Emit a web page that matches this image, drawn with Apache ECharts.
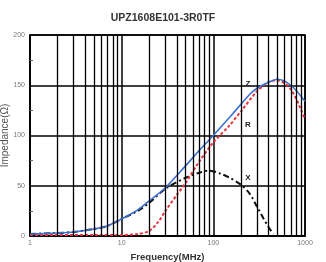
<!DOCTYPE html>
<html>
<head>
<meta charset="utf-8">
<script src="https://cdn.jsdelivr.net/npm/echarts@6/dist/echarts.min.js"></script>
<style>
  html, body { margin: 0; padding: 0; background: #fff; }
  #chart { width: 326px; height: 262px; }
</style>
</head>
<body>
<div id="chart"></div>
<script>
// Impedance curves (MHz -> Ohm)
const freqZ = [1, 2, 3, 5, 7, 10, 15, 20, 30, 50, 70, 100, 150, 200, 250, 300, 400, 500, 700, 1000];
const zVals = [2, 3, 4, 7, 10, 17, 26, 35, 48, 70, 85, 100, 118, 131, 141, 147, 153, 156, 150, 134];

const freqR = [1, 2, 5, 10, 15, 20, 25, 30, 40, 50, 70, 100, 150, 200, 300, 400, 500, 700, 1000];
const rVals = [1, 1, 1, 1, 2, 5, 14, 25, 41, 53, 74, 93, 110, 124, 144, 153, 155, 146, 116];

const freqX = [1, 2, 3, 5, 7, 10, 15, 20, 30, 50, 70, 90, 120, 150, 200, 250, 300, 350, 400, 450];
const xVals = [2, 3, 4, 7, 10, 17, 25, 33, 47, 58, 63, 65, 62, 58, 51, 42, 29, 18, 9, 2];

const xTicks = [1, 10, 100, 1000];
const minorFreqs = [2, 3, 4, 5, 6, 7, 8, 9, 20, 30, 40, 50, 60, 70, 80, 90, 200, 300, 400, 500, 600, 700, 800, 900];

const zip = (a, b) => a.map((v, i) => [v, b[i]]);

const chart = echarts.init(document.getElementById('chart'), null, { renderer: 'canvas' });

const lbl = { color: '#222', fontSize: 8, fontWeight: 'bold', fontFamily: 'Liberation Sans' };

chart.setOption({
  animation: false,
  backgroundColor: '#fff',
  title: {
    text: 'UPZ1608E101-3R0TF',
    left: 'center', top: 8,
    textStyle: { fontSize: 10.5, fontWeight: 'bold', color: '#333', fontFamily: 'Liberation Sans' }
  },
  grid: {
    left: 30, right: 21, top: 35, bottom: 26, outerBoundsMode: 'none',
    show: true, borderColor: '#000', borderWidth: 1.5
  },
  xAxis: {
    type: 'log', logBase: 10, min: 1, max: 1000,
    name: 'Frequency(MHz)', nameLocation: 'middle', nameGap: 16, nameMoveOverlap: false,
    nameTextStyle: { fontSize: 9.5, fontWeight: 'bold', color: '#333', fontFamily: 'Liberation Sans' },
    axisLine: { lineStyle: { color: '#000', width: 1.5 } },
    axisTick: { show: false },
    axisLabel: {
      fontSize: 7, color: '#777', margin: 4, fontFamily: 'Liberation Sans',
      formatter: v => (xTicks.includes(Math.round(v)) ? String(Math.round(v)) : '')
    },
    splitLine: { show: true, lineStyle: { color: '#000', width: 1.5 } }
  },
  yAxis: {
    type: 'value', min: 0, max: 200, interval: 50,
    name: 'Impedance(Ω)', nameLocation: 'middle', nameGap: 20, nameMoveOverlap: false,
    nameTextStyle: { fontSize: 10, color: '#555', fontFamily: 'Liberation Sans' },
    axisLine: { show: true, lineStyle: { color: '#000', width: 1.5 } },
    axisTick: { show: false },
    minorTick: { show: true, splitNumber: 2, length: -3, lineStyle: { color: '#666' } },
    axisLabel: { fontSize: 7, color: '#777', margin: 5, fontFamily: 'Liberation Sans' },
    splitLine: { show: true, lineStyle: { color: '#000', width: 1.5 } }
  },
  series: [
    {
      name: 'grid', type: 'line', data: [], silent: true,
      markLine: {
        silent: true, symbol: 'none', label: { show: false },
        lineStyle: { color: '#000', width: 1.3, type: 'solid' },
        data: minorFreqs.map(f => ({ xAxis: f }))
      }
    },
    {
      name: 'X', type: 'line', data: zip(freqX, xVals), smooth: 0.3, symbol: 'none',
      lineStyle: { color: '#111', width: 2, type: [6, 3, 2, 3] },
      markPoint: {
        symbol: 'circle', symbolSize: 0,
        label: Object.assign({ show: true, formatter: 'X' }, lbl),
        data: [{ coord: [238, 58] }]
      }
    },
    {
      name: 'R', type: 'line', data: zip(freqR, rVals), smooth: 0.3, symbol: 'none',
      lineStyle: { color: '#e8323c', width: 2, type: [3, 2] },
      markPoint: {
        symbol: 'circle', symbolSize: 0,
        label: Object.assign({ show: true, formatter: 'R' }, lbl),
        data: [{ coord: [238, 111] }]
      }
    },
    {
      name: 'Z', type: 'line', data: zip(freqZ, zVals), smooth: 0.3, symbol: 'none',
      lineStyle: { color: '#3b6fd0', width: 1.6 },
      markPoint: {
        symbol: 'circle', symbolSize: 0,
        label: Object.assign({ show: true, formatter: 'Z' }, lbl),
        data: [{ coord: [238, 151] }]
      }
    }
  ]
});
</script>
</body>
</html>
